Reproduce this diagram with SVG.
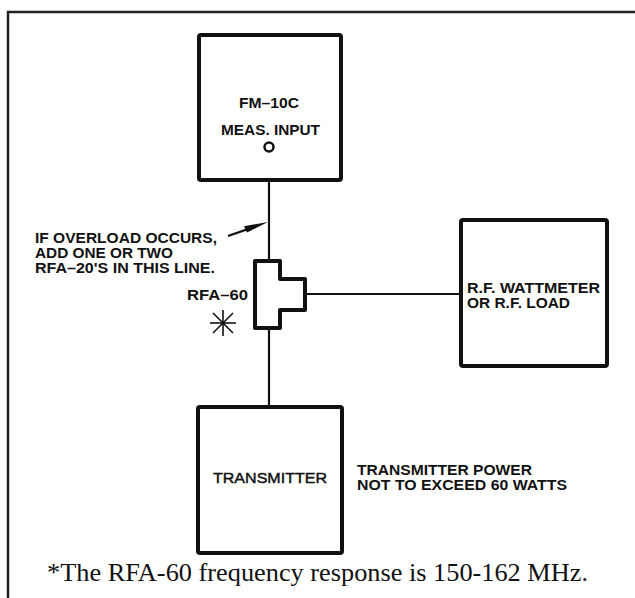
<svg xmlns="http://www.w3.org/2000/svg" width="635" height="598" viewBox="0 0 635 598">
<style>
.box{fill:#fff;stroke:#111;stroke-width:4;stroke-linejoin:round}
.wire{fill:none;stroke:#111;stroke-width:2.2}
.lbl{font-family:"Liberation Sans",Arial,sans-serif;font-weight:bold;font-size:14.5px;fill:#111}
.reg{font-family:"Liberation Sans",Arial,sans-serif;font-size:15px;fill:#111;stroke:#111;stroke-width:0.45}
.cap{font-family:"Liberation Serif","Times New Roman",serif;font-size:25px;fill:#111}
.frame{fill:none;stroke:#222;stroke-width:2.5}
</style>
<g id="frame">
<path class="frame" d="M8,598 V12 H635"/>
</g>
<g id="connectors">
<line class="wire" x1="269" y1="151" x2="269" y2="261"/>
<line class="wire" x1="269" y1="328" x2="269" y2="407"/>
<line class="wire" x1="305" y1="294" x2="461" y2="294"/>
<line x1="228" y1="236" x2="252" y2="227.6" stroke="#111" stroke-width="2.2"/>
<polygon points="268,222 244,226.2 247,232.5" fill="#111"/>
</g>
<g id="fm10c">
<rect class="box" x="199" y="35" width="142" height="145" rx="2"/>
<text class="lbl" x="239" y="108" textLength="60" lengthAdjust="spacingAndGlyphs">FM–10C</text>
<text class="lbl" x="221" y="135" textLength="99" lengthAdjust="spacingAndGlyphs">MEAS. INPUT</text>
<circle cx="269" cy="147" r="4.5" fill="#fff" stroke="#111" stroke-width="2.5"/>
</g>
<g id="rfa60">
<path class="box" d="M255,261 H280 V279 H305 V310 H280 V328 H255 Z"/>
<text class="lbl" x="187" y="300" textLength="61" lengthAdjust="spacingAndGlyphs">RFA–60</text>
<g stroke="#111" stroke-width="1.6">
<line x1="223" y1="310" x2="223" y2="336"/>
<line x1="210" y1="323" x2="236" y2="323"/>
<line x1="213" y1="313" x2="233" y2="333"/>
<line x1="213" y1="333" x2="233" y2="313"/>
</g>
</g>
<g id="note">
<text class="lbl" x="35" y="243" textLength="182" lengthAdjust="spacingAndGlyphs">IF OVERLOAD OCCURS,</text>
<text class="lbl" x="35" y="258" textLength="138" lengthAdjust="spacingAndGlyphs">ADD ONE OR TWO</text>
<text class="lbl" x="35" y="273" textLength="180" lengthAdjust="spacingAndGlyphs">RFA–20'S IN THIS LINE.</text>
</g>
<g id="wattmeter">
<rect class="box" x="461" y="220" width="146" height="146" rx="2"/>
<text class="lbl" x="467" y="293" textLength="133" lengthAdjust="spacingAndGlyphs">R.F. WATTMETER</text>
<text class="lbl" x="467" y="308" textLength="103" lengthAdjust="spacingAndGlyphs">OR R.F. LOAD</text>
</g>
<g id="transmitter">
<rect class="box" x="198" y="407" width="144" height="146" rx="2"/>
<text class="reg" x="213" y="483" textLength="114" lengthAdjust="spacingAndGlyphs">TRANSMITTER</text>
</g>
<g id="power-note">
<text class="lbl" x="357" y="475" textLength="175" lengthAdjust="spacingAndGlyphs">TRANSMITTER POWER</text>
<text class="lbl" x="357" y="490" textLength="210" lengthAdjust="spacingAndGlyphs">NOT TO EXCEED 60 WATTS</text>
</g>
<g id="caption">
<text class="cap" x="47" y="581" textLength="541" lengthAdjust="spacingAndGlyphs">*The RFA-60 frequency response is 150-162 MHz.</text>
</g>
</svg>
